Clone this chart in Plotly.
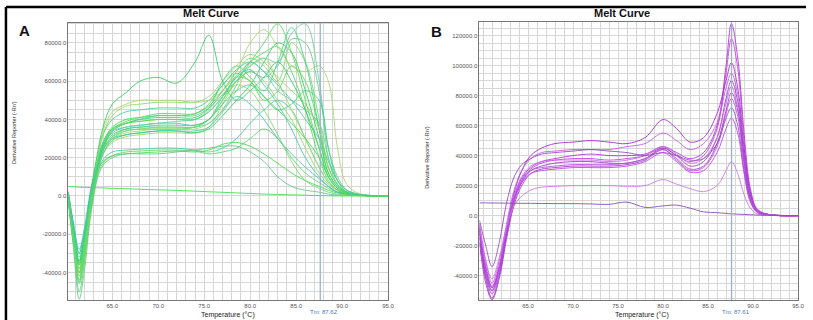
import plotly.graph_objects as go

W, H = 813, 320

# ---------------- DATA ----------------
# Panel A (temperatures in °C; values in thousands of derivative reporter units)
temp_a = [60.2, 60.8, 61.4, 62.0, 62.6, 63.3, 64.0, 65.0, 66.5, 68, 70, 72, 74, 75.5, 77,
          78.5, 80, 81.5, 83, 84.5, 86, 87.5, 88.5, 89.5, 90.5, 92, 95]
curves_a = [
    [2, -15, -30, -18, 0, 12, 18, 21, 22, 22.5, 23, 23.5, 23, 24, 27, 28, 26, 22, 17, 12, 8, 5, 3, 1.5, 0.8, 0.3, 0],
    [0, -20, -35, -22, -4, 10, 17, 21, 23, 23.5, 24, 24, 23.5, 22, 23, 25, 30, 35, 30, 20, 12, 7, 4, 2, 1, 0.3, 0],
    [-3, -25, -40, -28, -8, 8, 16, 20, 22, 22, 22, 23, 24, 25, 26, 26, 23, 18, 10, 5, 3, 2, 1, 0.5, 0.3, 0.1, 0],
    [1, -18, -32, -20, -2, 11, 19, 23, 24, 24.5, 25, 25, 24, 23, 25, 30, 38, 45, 50, 45, 30, 15, 7, 3, 1, 0.3, 0],
    [0, -22, -42, -28, -6, 12, 22, 28, 31, 32, 33, 33, 33, 36, 48, 60, 65, 60, 50, 40, 25, 12, 6, 3, 1, 0.3, 0],
    [2, -20, -38, -25, -5, 12, 24, 30, 33, 34, 35, 35, 35, 38, 45, 55, 68, 72, 60, 45, 30, 15, 7, 3, 1, 0.3, 0],
    [-2, -25, -45, -30, -8, 10, 22, 29, 32, 33, 34, 34, 33, 35, 42, 50, 58, 70, 80, 75, 55, 30, 12, 5, 2, 0.5, 0],
    [0, -18, -35, -22, -3, 14, 25, 31, 34, 35, 35, 35, 36, 40, 50, 62, 60, 50, 55, 68, 60, 35, 15, 6, 2, 0.5, 0],
    [-1, -22, -40, -27, -6, 12, 24, 31, 35, 36, 36, 36, 36, 38, 45, 58, 70, 65, 55, 50, 45, 38, 20, 8, 3, 0.8, 0],
    [3, -15, -28, -16, 2, 16, 27, 33, 36, 37, 38, 38, 37, 40, 52, 62, 66, 58, 48, 35, 20, 10, 5, 2, 1, 0.3, 0],
    [0, -20, -36, -23, -3, 15, 28, 35, 38, 39, 40, 40, 40, 45, 55, 65, 72, 68, 60, 80, 70, 40, 15, 6, 2, 0.5, 0],
    [-2, -24, -44, -30, -7, 12, 26, 34, 38, 40, 41, 41, 41, 46, 60, 68, 62, 55, 70, 88, 70, 35, 12, 5, 2, 0.5, 0],
    [1, -20, -38, -25, -4, 14, 28, 36, 40, 41, 42, 42, 43, 48, 58, 64, 60, 52, 45, 38, 30, 20, 10, 4, 1.5, 0.4, 0],
    [0, -26, -50, -34, -10, 10, 26, 35, 39, 41, 43, 43, 43, 47, 55, 63, 70, 75, 78, 65, 45, 20, 8, 3, 1, 0.3, 0],
    [-3, -28, -54, -38, -12, 8, 24, 34, 38, 40, 42, 42, 42, 46, 53, 60, 65, 62, 68, 82, 80, 55, 25, 10, 3, 0.8, 0],
    [2, -18, -34, -20, 0, 18, 32, 40, 44, 45, 46, 46, 46, 50, 58, 66, 70, 65, 58, 50, 40, 30, 18, 8, 3, 0.8, 0],
    [0, -22, -42, -28, -5, 16, 32, 42, 47, 48, 49, 49, 49, 52, 60, 68, 74, 70, 62, 55, 48, 35, 15, 6, 2, 0.5, 0],
    [1, -20, -38, -24, -2, 18, 34, 44, 48, 50, 50, 50, 49, 50, 55, 65, 80, 87, 78, 68, 65, 68, 60, 25, 6, 1, 0],
    [0, -18, -34, -20, 0, 20, 36, 48, 54, 60, 62, 59, 70, 84, 60, 50, 55, 62, 70, 60, 45, 25, 10, 4, 1.5, 0.4, 0],
    [-1, -22, -40, -26, -4, 14, 28, 35, 38, 39, 40, 40, 40, 44, 52, 60, 70, 80, 90, 75, 50, 25, 10, 4, 1.5, 0.4, 0],
    [0, -20, -36, -23, -2, 16, 28, 34, 36, 37, 38, 39, 40, 44, 52, 62, 68, 72, 70, 85, 90, 60, 20, 6, 2, 0.5, 0],
    [2, -16, -30, -18, 0, 14, 24, 30, 32, 33, 34, 34, 34, 36, 44, 52, 48, 40, 30, 22, 15, 9, 5, 2, 1, 0.3, 0],
    [0, -24, -46, -32, -8, 10, 22, 30, 34, 35, 36, 36, 36, 40, 50, 58, 55, 45, 32, 18, 8, 4, 2, 1, 0.5, 0.2, 0],
    [1, -20, -36, -22, -2, 14, 26, 32, 35, 36, 37, 37, 37, 40, 48, 55, 58, 52, 45, 48, 55, 50, 25, 8, 2, 0.5, 0],
    [5, 4.8, 4.6, 4.5, 4.4, 4.3, 4.2, 4.0, 3.8, 3.5, 3.2, 2.9, 2.5, 2.2, 1.9, 1.6, 1.3, 1.0, 0.8, 0.6, 0.4, 0.2, 0.1, 0, 0, 0, 0],
]

# Panel B
temp_b = [59.6, 60.3, 61.0, 61.8, 62.6, 63.4, 64.3, 65.3, 66.5, 68, 70, 72, 74, 76, 78, 80,
          81.5, 83, 84.5, 86, 87, 87.6, 88.3, 89, 89.7, 90.5, 92, 95]
curves_b = [
    [-8, -35, -48, -35, -10, 12, 25, 32, 36, 38, 40, 41, 40, 40, 41, 46, 42, 38, 42, 60, 100, 128, 105, 55, 18, 4, 0.5, 0],
    [-10, -40, -52, -38, -12, 10, 24, 31, 35, 37, 38, 38, 37, 38, 40, 45, 40, 36, 40, 58, 95, 118, 98, 50, 16, 4, 0.5, 0],
    [-12, -38, -50, -35, -10, 14, 30, 40, 45, 48, 49, 50, 49, 48, 52, 64, 58, 49, 52, 68, 90, 102, 85, 45, 15, 3, 0.5, 0],
    [-5, -30, -45, -30, -6, 16, 30, 38, 42, 43, 44, 44, 44, 46, 48, 55, 50, 44, 48, 62, 85, 95, 80, 40, 14, 3, 0.5, 0],
    [-15, -42, -55, -40, -14, 8, 22, 30, 33, 35, 36, 36, 35, 35, 38, 45, 40, 33, 36, 52, 78, 90, 76, 40, 13, 3, 0.5, 0],
    [-6, -33, -47, -33, -9, 12, 26, 33, 36, 37, 37, 37, 36, 37, 40, 46, 41, 35, 38, 52, 75, 86, 72, 37, 12, 3, 0.5, 0],
    [-18, -45, -56, -42, -16, 6, 20, 28, 31, 32, 33, 33, 33, 34, 37, 44, 38, 31, 33, 48, 70, 82, 70, 36, 12, 3, 0.5, 0],
    [-10, -37, -50, -36, -11, 10, 23, 30, 32, 33, 34, 34, 34, 35, 38, 44, 37, 30, 32, 46, 68, 78, 66, 34, 11, 3, 0.5, 0],
    [-3, -20, -34, -18, 8, 25, 34, 38, 41, 42, 43, 44, 43, 42, 40, 42, 40, 37, 38, 48, 65, 72, 60, 30, 10, 2, 0.5, 0],
    [-8, -35, -48, -34, -10, 10, 22, 28, 30, 31, 32, 32, 32, 33, 36, 42, 36, 29, 30, 42, 58, 65, 55, 28, 9, 2, 0.5, 0],
    [-6, -30, -42, -28, -8, 6, 13, 17, 19, 19.5, 20, 20, 20, 19.5, 20, 24, 21, 18, 16, 20, 30, 36, 28, 14, 5, 1, 0.3, 0],
    [8.5, 8.5, 8.4, 8.4, 8.3, 8.3, 8.2, 8.2, 8.1, 8.0, 8.0, 7.8, 7.5, 9.0, 5.5, 6.5, 7.0, 5.0, 2.5, 2.0, 1.5, 1.2, 1.0, 0.8, 0.6, 0.4, 0.2, 0],
]

x_ticks = [65, 70, 75, 80, 85, 90, 95]
y_ticks_a = [-40000, -20000, 0, 20000, 40000, 60000, 80000]
y_ticks_b = [-40000, -20000, 0, 20000, 40000, 60000, 80000, 100000, 120000]
tm_a, tm_b = 87.62, 87.61
tm_label_a, tm_label_b = "Tm: 87.62", "Tm: 87.61"

# ---------------- STYLE ----------------
greens = ['#3ee04a', '#5ad46a', '#66c88c', '#4ccf9a', '#8fdc5a', '#a8d86a', '#30d060',
          '#55e055', '#6ad0a0', '#44c8b0', '#7ad870', '#38d878']
purples = ['#b030d8', '#c040e0', '#a028c8', '#c458e6', '#9040b8', '#cc6aea', '#a838d0',
           '#bc50e2', '#9648c0', '#b844e8', '#c878e2', '#8048b0']

fig = go.Figure()
for i, c in enumerate(curves_a):
    fig.add_trace(go.Scatter(x=temp_a, y=[v * 1000 for v in c], mode='lines',
                             line=dict(color=greens[i % len(greens)], width=1.0, shape='spline', smoothing=1.0),
                             opacity=0.85, xaxis='x', yaxis='y', showlegend=False, hoverinfo='skip'))
for i, c in enumerate(curves_b):
    fig.add_trace(go.Scatter(x=temp_b, y=[v * 1000 for v in c], mode='lines',
                             line=dict(color=purples[i % len(purples)], width=1.0, shape='spline', smoothing=1.0),
                             opacity=0.85, xaxis='x2', yaxis='y2', showlegend=False, hoverinfo='skip'))

grid = '#d6d6d6'
tickfont = dict(family='Arial, Liberation Sans', size=6, color='#555')

def xax(domain, rng):
    return dict(domain=domain, range=rng, tickvals=x_ticks, ticktext=[f"{t:.1f}" for t in x_ticks],
                tickfont=tickfont, showgrid=True, gridcolor=grid, gridwidth=1,
                minor=dict(dtick=1, tick0=60, showgrid=True, gridcolor=grid, gridwidth=1),
                showline=True, linecolor='#777', linewidth=1, mirror=True, ticks='', zeroline=False)

def yax(domain, rng, ticks, anchor):
    return dict(domain=domain, range=rng, tickvals=ticks,
                ticktext=[(f"-{abs(t):.1f}" if t < 0 else f"{t:.1f}") for t in ticks],
                tickfont=tickfont, showgrid=True, gridcolor=grid, gridwidth=1,
                minor=dict(dtick=5000, tick0=0, showgrid=True, gridcolor=grid, gridwidth=1),
                showline=True, linecolor='#777', linewidth=1, mirror=True, ticks='', zeroline=False,
                anchor=anchor)

def px(x):
    return x / W

def py(y):
    return 1 - y / H

fig.update_layout(
    width=W, height=H, margin=dict(l=0, r=0, t=0, b=0),
    paper_bgcolor='white', plot_bgcolor='white',
    xaxis=dict(**xax([px(69), px(391)], [60.24, 95.0]), anchor='y'),
    yaxis=yax([py(300), py(22.7)], [-54400, 90600], y_ticks_a, 'x'),
    xaxis2=dict(**xax([px(483), px(804)], [59.6, 95.0]), anchor='y2'),
    yaxis2=yax([py(300), py(22)], [-56200, 129000], y_ticks_b, 'x2'),
)

# Tm lines
fig.add_shape(type='line', xref='x', yref='paper', x0=tm_a, x1=tm_a, y0=py(300), y1=py(22.7),
              line=dict(color='#9ab2cf', width=1.3), layer='above')
fig.add_shape(type='line', xref='x2', yref='paper', x0=tm_b, x1=tm_b, y0=py(300), y1=py(22),
              line=dict(color='#9ab2cf', width=1.3), layer='above')

# Frame
fig.add_shape(type='line', xref='paper', yref='paper', x0=px(6), x1=px(812), y0=py(7), y1=py(7),
              line=dict(color='black', width=2.5))
fig.add_shape(type='line', xref='paper', yref='paper', x0=px(6), x1=px(6), y0=py(7), y1=py(322),
              line=dict(color='black', width=2.5))

ann = []
def A(text, x, y, size, bold=False, color='#111', angle=0, family='Arial, Liberation Sans'):
    ann.append(dict(text=(f"<b>{text}</b>" if bold else text), x=px(x), y=py(y), xref='paper', yref='paper',
                    showarrow=False, font=dict(size=size, color=color, family=family),
                    xanchor='center', yanchor='middle', textangle=angle))

A("Melt Curve", 213, 12.5, 11, bold=True)
A("Melt Curve", 627, 12.5, 11, bold=True)
A("A", 25, 30, 15, bold=True)
A("B", 440, 32, 15, bold=True)
A("Derivative Reporter (-Rn')", 14, 132, 5.5, color='#333', angle=-90)
A("Derivative Reporter (-Rn')", 430, 157, 5.5, color='#333', angle=-90)
A("Temperature (°C)", 230, 315, 7, color='#222')
A("Temperature (°C)", 647, 315, 7, color='#222')
A(tm_label_a, 326, 312, 6, color='#4a78c0')
A(tm_label_b, 741, 312, 6, color='#4a78c0')
fig.update_layout(annotations=ann)

fig.write_html("out.html")
